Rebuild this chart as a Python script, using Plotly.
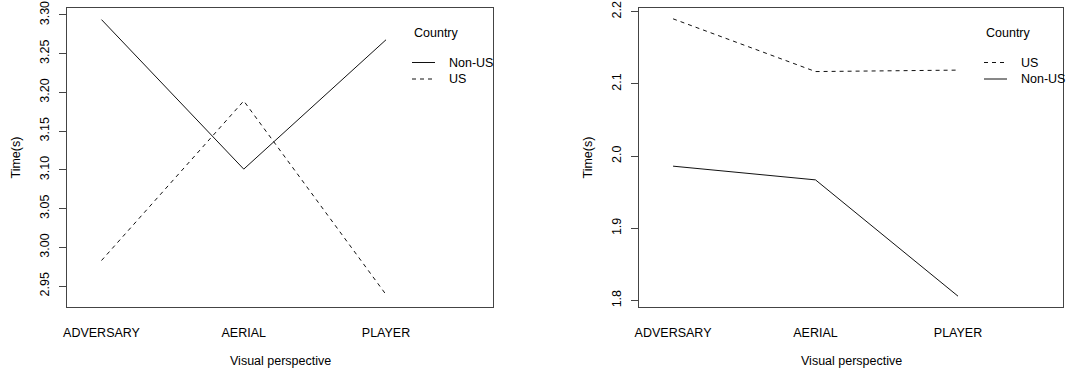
import plotly.graph_objects as go

# Visual perspective levels and their positions on the x axis
perspectives = ["ADVERSARY", "AERIAL", "PLAYER"]
positions = [1, 2, 3]
countries = ["Non-US", "US"]

# Left panel: mean response time (s) per perspective
left_non_us = [3.294, 3.101, 3.268]
left_us = [2.983, 3.189, 2.939]
left_ticks = [2.95, 3.00, 3.05, 3.10, 3.15, 3.20, 3.25, 3.30]

# Right panel: mean response time (s) per perspective
right_non_us = [1.986, 1.967, 1.806]
right_us = [2.190, 2.117, 2.119]
right_ticks = [1.8, 1.9, 2.0, 2.1, 2.2]

W, H = 1069, 374
FONT = "Liberation Sans, Arial, Helvetica, sans-serif"
DASH = {"Non-US": "solid", "US": "4px,4px"}


def px(x):
    return x / W


def py(y):
    return 1 - y / H


panels = [
    dict(series={"Non-US": left_non_us, "US": left_us}, ticks=left_ticks,
         fmt=".2f", xr=[0.7575, 3.752], yr=[2.923, 3.309],
         dom=[67, 493], ax="x", ay="y", ytitle_x=15, leg_x=412),
    dict(series={"Non-US": right_non_us, "US": right_us}, ticks=right_ticks,
         fmt=".1f", xr=[0.761, 3.737], yr=[1.791, 2.205],
         dom=[639, 1063], ax="x2", ay="y2", ytitle_x=587, leg_x=984),
]

fig = go.Figure()
annotations = []
shapes = []

for i, p in enumerate(panels):
    for name in countries:
        fig.add_trace(go.Scatter(
            x=positions, y=p["series"][name], mode="lines", name=name,
            line=dict(color="#111", width=1, dash=DASH[name]),
            xaxis=p["ax"], yaxis=p["ay"], showlegend=False,
            hoverinfo="skip",
        ))

    suffix = "" if i == 0 else "2"
    xdom = [px(p["dom"][0]), px(p["dom"][1])]
    ydom = [py(307), py(8)]
    fig.update_layout(**{
        "xaxis" + suffix: dict(
            domain=xdom, range=p["xr"], tickvals=positions, ticktext=perspectives,
            ticks="", showgrid=False, zeroline=False, showline=True, mirror=True,
            linecolor="#444", linewidth=1, anchor="y" + suffix,
            tickfont=dict(family=FONT, size=12.5, color="#000"),
            ticklabelstandoff=14, automargin=False,
        ),
        "yaxis" + suffix: dict(
            domain=ydom, range=p["yr"], tickvals=p["ticks"], tickformat=p["fmt"],
            ticks="outside", ticklen=7, tickcolor="#444", tickwidth=1,
            showgrid=False, zeroline=False, showline=True, mirror=True,
            linecolor="#444", linewidth=1, anchor="x" + suffix,
            tickangle=-90, tickfont=dict(family=FONT, size=12.5, color="#000"),
            ticklabelstandoff=5, automargin=False,
        ),
    })

    # axis titles
    cx = (p["dom"][0] + p["dom"][1]) / 2
    annotations.append(dict(text="Visual perspective", x=px(cx), y=py(361),
                            xref="paper", yref="paper", showarrow=False,
                            xanchor="center", yanchor="middle",
                            font=dict(family=FONT, size=12.5, color="#000")))
    annotations.append(dict(text="Time(s)", x=px(p["ytitle_x"]), y=py(157.5),
                            xref="paper", yref="paper", showarrow=False,
                            textangle=-90, xanchor="center", yanchor="middle",
                            font=dict(family=FONT, size=12.5, color="#000")))

    # legend, ordered by the value at the last perspective
    lx = p["leg_x"]
    annotations.append(dict(text="Country", x=px(lx), y=py(33),
                            xref="paper", yref="paper", showarrow=False,
                            xanchor="left", yanchor="middle",
                            font=dict(family=FONT, size=12.5, color="#000")))
    order = sorted(countries, key=lambda n: -p["series"][n][-1])
    for k, name in enumerate(order):
        yy = 62.5 + 16.5 * k
        shapes.append(dict(type="line", xref="paper", yref="paper",
                           x0=px(lx), x1=px(lx + 23), y0=py(yy), y1=py(yy),
                           line=dict(color="#111", width=1, dash=DASH[name])))
        annotations.append(dict(text=name, x=px(lx + 35), y=py(yy),
                                xref="paper", yref="paper", showarrow=False,
                                xanchor="left", yanchor="middle",
                                font=dict(family=FONT, size=12.5, color="#000")))

fig.update_layout(
    width=W, height=H, margin=dict(l=0, r=0, t=0, b=0),
    paper_bgcolor="white", plot_bgcolor="white",
    annotations=annotations, shapes=shapes, showlegend=False,
)

fig.write_html("out.html")
